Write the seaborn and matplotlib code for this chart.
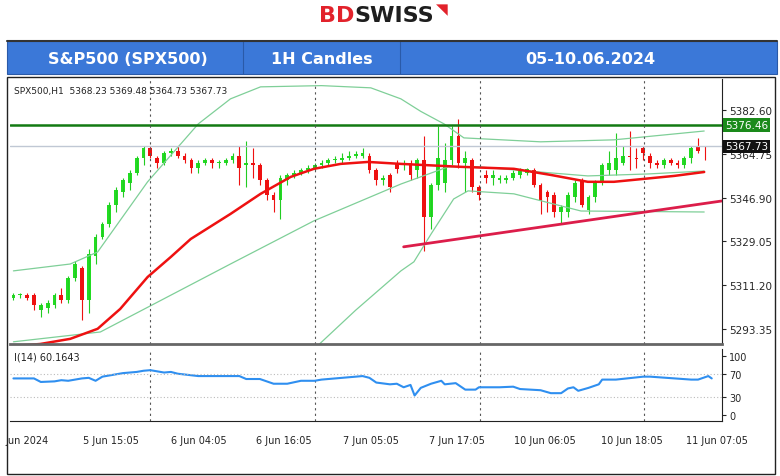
import seaborn as sns
import pandas as pd
import numpy as np
import matplotlib.pyplot as plt
from matplotlib.patches import Rectangle
import matplotlib.transforms as mtransforms

# candles (open, close, high, low)
opens = [5306,5307,5307,5307,5301,5302,5303,5307,5305,5314,5318,5305,5323,5331,5336,5344,5349,5353,5357,5363,
         5367,5363,5361,5365,5366,5364,5362,5359,5361,5362,5361,5361,5362,5364,5360,5361,5360,5354,5348,5346,
         5354,5356,5357,5358,5359,5360,5361,5362,5362,5363,5364,5364,5364,5358,5354,5356,5361,5360,5361,5358,
         5362,5339,5352,5353,5362,5372,5361,5362,5351,5356,5355,5354,5354,5355,5356,5357,5358,5352,5349,5348,
         5341,5341,5347,5354,5342,5347,5353,5358,5358,5361,5364,5363,5367,5364,5361,5360,5362,5361,5360,5363,
         5368,5367.7]
closes = [5307,5307.5,5306,5303,5303,5304,5307,5305,5314,5320,5305,5324,5331,5336,5344,5350,5354,5357,5363,5367,
          5364,5361,5365,5366,5364,5362,5359,5361,5362,5361,5361.5,5362,5364,5359,5361,5360,5354,5348,5346,5355,
          5356,5357,5358,5359,5360,5361,5362,5362.5,5363,5364,5364.5,5365,5358,5354,5355,5351,5358.5,5361,5356,5362,
          5339,5352,5363,5362,5372,5361,5363,5351,5348,5355,5356,5355,5355,5357,5358,5358.5,5352,5346,5347,5341,
          5343,5348,5353,5344,5347,5353,5360,5361,5363,5364,5363.5,5362.5,5365,5361,5360,5362,5361,5360,5363,5367,
          5366,5367.3]
highs = [5308,5308,5308,5308,5304,5305,5308,5310,5315,5321,5319,5326,5332,5337,5345,5351,5355,5358,5364,5368,
         5368,5364,5366,5367,5368,5365,5363,5362,5363,5363,5362,5363,5365,5368,5370,5367,5361,5355,5349,5356,
         5357,5358,5359,5360,5361,5362,5363,5364,5365,5366,5366,5367,5365,5359,5356,5357,5362,5362,5362,5363,
         5372,5353,5376,5369,5376,5379,5366,5363,5352,5358,5358,5356,5356,5358,5359,5359,5359,5353,5350,5349,
         5344,5349,5354,5355,5348,5354,5361,5366,5373,5368,5374,5367,5368,5365,5362,5363,5363,5362,5364,5368,
         5371,5368]
lows = [5305,5306,5305,5301,5298,5300,5302,5304,5304,5313,5297,5300,5320,5330,5335,5341,5347,5350,5356,5360,
        5363,5359,5360,5364,5363,5361,5357,5357,5360,5359,5359,5360,5361,5352,5351,5355,5352,5346,5341,5338,
        5352,5355,5356,5357,5358,5359,5360,5361,5361,5362,5363,5363,5357,5352,5352,5349,5357,5358,5354,5355,
        5325,5334,5350,5349,5360,5359,5349,5349,5346,5353,5352,5353,5353,5354,5355,5356,5351,5340,5341,5339,
        5336,5339,5345,5343,5340,5345,5352,5356,5356,5360,5358,5359,5362,5359,5359,5359,5360,5359,5359,5361,
        5365,5362]

# indicator lines, (candle index, price)
upper_x = [0, 8.3, 12.3, 19.6, 27, 31.7, 36.1, 45, 52.2, 56.6, 59.5, 62.9, 65.8, 77, 87.7, 100.9]
upper_y = [5317.0, 5319.8, 5324.7, 5353.3, 5376.9, 5387.1, 5392.0, 5392.5, 5391.6, 5387.1, 5382.0, 5376.9,
           5371.2, 5369.6, 5370.4, 5374.0]
mid_x = [0, 12.7, 19.7, 31.7, 43.9, 56.6, 63.5, 67.8, 75.1, 83.9, 92.7, 100.9]
mid_y = [5288.1, 5292.1, 5302.3, 5319.8, 5337.4, 5352.4, 5359.4, 5359.4, 5357.7, 5355.7, 5356.5, 5357.7]
ma_x = [0, 3.9, 8.3, 12.3, 15.6, 19.6, 23, 25.9, 31.7, 36.1, 40.5, 43.9, 47.8, 51.8, 56.6, 65.4, 73.1, 78.5,
        83.9, 87.7, 96.5, 100.9]
ma_y = [5286.4, 5287.2, 5289.3, 5293.4, 5301.5, 5314.5, 5322.7, 5330.0, 5340.2, 5348.4, 5355.3, 5358.6, 5360.6,
        5361.4, 5360.6, 5359.4, 5358.6, 5356.1, 5353.3, 5353.3, 5355.7, 5357.3]
lower_x = [44.4, 50, 56.6, 58.5, 61, 64.3, 66.4, 73.1, 82.9, 100.9]
lower_y = [5286.4, 5301.0, 5317.0, 5320.7, 5332.0, 5346.3, 5349.6, 5348.4, 5341.4, 5341.0]
support_x = [57, 103.5]
support_y = [5326.8, 5345.5]
resistance = 5376.46
last_price = 5367.73

rsi_x = [0, 3, 4, 6, 7, 8, 10, 11, 12, 13, 14, 16, 18, 19, 20, 22, 23, 24, 27, 29, 33, 34, 36, 38, 40, 42, 44,
         45, 47, 49, 51, 52, 53, 55, 56, 57, 58, 58.6, 59.5, 61, 62.5, 63, 64.6, 66, 67.5, 68, 71, 73, 74, 77, 78.5,
         80, 81, 81.8, 82.5, 84, 85.5, 86, 88, 92, 93, 99, 100, 101.5, 102]
rsi_y = [62, 62, 56, 57, 59, 58, 62, 63, 58, 65, 67, 71, 73, 75, 76, 72, 73, 70, 66, 66, 66, 61, 61, 53, 53, 58,
         58, 60, 62, 64, 66, 63, 55, 52, 53, 47, 51, 33, 46, 53, 58, 52, 54, 43, 43, 47, 47, 48, 44, 42, 37, 37, 45,
         47, 41, 46, 52, 60, 60, 65, 65, 60, 60, 66, 62]

yticks = [5382.60, 5364.75, 5346.90, 5329.05, 5311.20, 5293.35]
date_labels = ["Jun 2024", "5 Jun 15:05", "6 Jun 04:05", "6 Jun 16:05", "7 Jun 05:05",
               "7 Jun 17:05", "10 Jun 06:05", "10 Jun 18:05", "11 Jun 07:05"]
date_pos = [-1.1, 10.2, 23.0, 35.5, 48.1, 60.7, 73.1, 85.8, 98.2]
sep_pos = [19.9, 44.0, 68.1, 92.1]

sns.set_style("white")
plt.rcParams['font.family'] = ['DejaVu Sans']

W, H = 780, 477
fig = plt.figure(figsize=(7.8, 4.77), dpi=100)

def fx(px):
    return px / W

def fy(py):
    return 1 - py / H

# header
fig.text(fx(354), fy(16), "BD", color="#e2222b", fontsize=16, fontweight="bold", ha="right", va="center")
fig.text(fx(354), fy(16), "SWISS", color="#1e1e1e", fontsize=16, fontweight="bold", ha="left", va="center")
fig.text(fx(442), fy(10), "\u25e5", color="#e2222b", fontsize=11, ha="center", va="center")
fig.patches.append(Rectangle((fx(7), fy(75)), fx(770), (75 - 42) / H, transform=fig.transFigure,
                             facecolor="#3b78d8", edgecolor="#2a5aa8", lw=0.8))
for xs in [243, 400]:
    fig.add_artist(plt.Line2D([fx(xs), fx(xs)], [fy(75), fy(42)], color="#2a5aa8", lw=0.8))
fig.add_artist(plt.Line2D([fx(7), fx(777)], [fy(42), fy(42)], color="#333333", lw=1.5))
for xc, t in [(128, "S&P500 (SPX500)"), (322, "1H Candles"), (590, "05-10.06.2024")]:
    fig.text(fx(xc), fy(59), t, color="white", fontsize=11.5, fontweight="bold", ha="center", va="center")
# outer frame
frame = Rectangle((fx(7), fy(475)), fx(768), (475 - 78) / H, transform=fig.transFigure,
                  facecolor="none", edgecolor="#222222", lw=1.0)
fig.patches.append(frame)

ax = fig.add_axes([fx(10), fy(345), fx(712), (345 - 80) / H])
ax2 = fig.add_axes([fx(10), fy(422), fx(712), (422 - 350) / H])

idx = np.arange(len(opens))
df = pd.DataFrame({"i": idx, "o": opens, "c": closes, "h": highs, "l": lows})
up = df[df.c >= df.o]
dn = df[df.c < df.o]
ax.vlines(up.i, up.l, up.h, color="#22cc22", lw=0.8)
ax.vlines(dn.i, dn.l, dn.h, color="#ee1111", lw=0.8)
ax.bar(up.i, np.maximum(up.c - up.o, 0.4), bottom=up.o, width=0.55, color="#22dd22", lw=0)
ax.bar(dn.i, np.maximum(dn.o - dn.c, 0.4), bottom=dn.c, width=0.55, color="#ee1111", lw=0)

band_col = "#7fcf98"
sns.lineplot(x=upper_x, y=upper_y, ax=ax, color=band_col, lw=0.9)
sns.lineplot(x=mid_x, y=mid_y, ax=ax, color=band_col, lw=0.9)
sns.lineplot(x=lower_x, y=lower_y, ax=ax, color=band_col, lw=0.9)
sns.lineplot(x=ma_x, y=ma_y, ax=ax, color="#ee1111", lw=1.8)
sns.lineplot(x=support_x, y=support_y, ax=ax, color="#dc1d4a", lw=2)
ax.axhline(resistance, color="#137a13", lw=1.8)
ax.axhline(last_price, color="#c0c8d4", lw=1.0)
for s in sep_pos:
    ax.axvline(s, color="#555555", lw=0.8, ls=(0, (2, 3)))
    ax2.axvline(s, color="#555555", lw=0.8, ls=(0, (2, 3)))

ax.set_xlim(-0.5, 103.5)
ax.set_ylim(5287.2, 5395.2)
ax.yaxis.tick_right()
ax.set_yticks(yticks)
ax.set_yticklabels([f"{v:.2f}" for v in yticks], fontsize=7.5)
ax.tick_params(axis="y", length=3, pad=2)
ax.set_xticks([])
for k in ["top", "left"]:
    ax.spines[k].set_visible(False)
ax.spines["bottom"].set_color("#666666")
ax.spines["bottom"].set_linewidth(2)
ax.spines["right"].set_color("#222222")

tr = mtransforms.blended_transform_factory(ax.transAxes, ax.transData)
ax.text(1.004, resistance, f"{resistance:.2f}", transform=tr, fontsize=7.5, color="white", va="center",
        bbox=dict(boxstyle="square,pad=0.15", fc="#1a8a1a", ec="none"))
ax.text(1.004, last_price, f"{last_price:.2f}", transform=tr, fontsize=7.5, color="white", va="center",
        bbox=dict(boxstyle="square,pad=0.15", fc="#111111", ec="none"))
ax.text(0.005, 0.975, "SPX500,H1  5368.23 5369.48 5364.73 5367.73", transform=ax.transAxes,
        fontsize=6.5, color="#222222", va="top")

# RSI panel
sns.lineplot(x=rsi_x, y=rsi_y, ax=ax2, color="#2f8ff0", lw=1.5)
for lv in [70, 30]:
    ax2.axhline(lv, color="#bbbbbb", lw=0.8, ls=(0, (1, 2)))
ax2.set_xlim(-0.5, 103.5)
ax2.set_ylim(-10.2, 111.9)
ax2.yaxis.tick_right()
ax2.set_yticks([100, 70, 30, 0])
ax2.set_yticklabels(["100", "70", "30", "0"], fontsize=7)
ax2.tick_params(axis="y", length=3, pad=2)
ax2.set_xticks([])
for k in ["top", "left"]:
    ax2.spines[k].set_visible(False)
ax2.spines["bottom"].set_color("#222222")
ax2.spines["right"].set_color("#222222")
ax2.text(0.005, 0.97, "I(14) 60.1643", transform=ax2.transAxes, fontsize=7, color="#222222", va="top")
dtr = mtransforms.blended_transform_factory(ax2.transData, ax2.transAxes)
for p, t in zip(date_pos, date_labels):
    txt = ax2.text(p, -0.2, t, transform=dtr, fontsize=7, color="#222222", va="top", ha="left")
    txt.set_clip_path(frame)

fig.savefig("out.png", dpi=100)
